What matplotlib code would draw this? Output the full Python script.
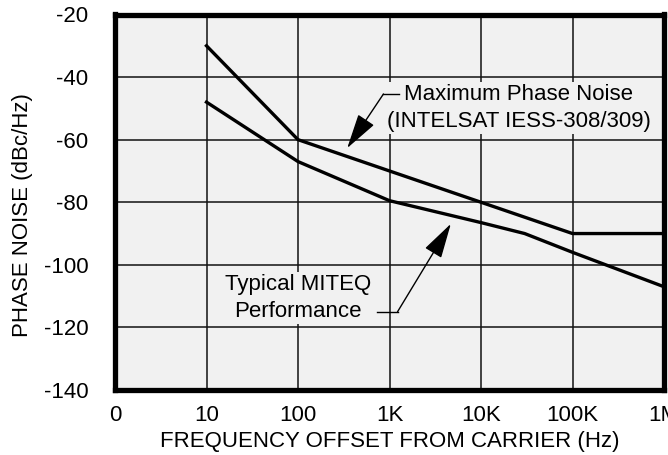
import matplotlib
matplotlib.use("Agg")
import matplotlib.pyplot as plt
from matplotlib.ticker import FixedLocator, NullLocator

plt.rcParams['font.family'] = ['Liberation Sans', 'DejaVu Sans']

# Data (frequency offset in Hz, phase noise in dBc/Hz)
max_freq = [10, 100, 1e3, 1e4, 1e5, 1e6]
max_noise = [-30, -60, -70, -80, -90, -90]

typ_freq = [10, 100, 1e3, 1e4, 3e4, 1e5, 1e6]
typ_noise = [-48, -67, -79.5, -86.5, -90, -96, -107]

x_ticks = [1, 10, 100, 1e3, 1e4, 1e5, 1e6]
x_tick_labels = ['0', '10', '100', '1K', '10K', '100K', '1M']
y_ticks = [-140, -120, -100, -80, -60, -40, -20]

bg = '#f1f1f1'
fs = 16

fig = plt.figure(figsize=(6.68, 4.55), dpi=100)
ax = fig.add_axes([115 / 668, 1 - 390 / 455, (664 - 115) / 668, (390 - 14.5) / 455])
ax.set_facecolor(bg)
ax.set_xscale('log')
ax.set_xlim(1, 1e6)
ax.set_ylim(-140, -20)
ax.xaxis.set_major_locator(FixedLocator(x_ticks))
ax.xaxis.set_minor_locator(NullLocator())
ax.set_xticklabels(x_tick_labels)
ax.set_yticks(y_ticks)
ax.set_yticklabels([str(v) for v in y_ticks])
ax.tick_params(axis='both', length=0, labelsize=fs)
ax.tick_params(axis='y', pad=19)
ax.tick_params(axis='x', pad=11)
ax.grid(True, color='#111111', linewidth=1.1)
ax.set_axisbelow(True)
for s in ax.spines.values():
    s.set_linewidth(3.8)
    s.set_color('black')

ax.plot(max_freq, max_noise, color='black', linewidth=2.4, zorder=3)
ax.plot(typ_freq, typ_noise, color='black', linewidth=2.4, zorder=3)

arrow_style = '-|>,head_length=1.1,head_width=0.3'

# Annotations
ax.text(26e3, -49.9, 'Maximum Phase Noise\n(INTELSAT IESS-308/309)', ha='center', va='center',
        fontsize=fs, linespacing=1.4, zorder=4,
        bbox=dict(boxstyle='square,pad=0.1', facecolor=bg, edgecolor='none'))
ax.plot([1256, 859], [-45.4, -45.4], color='black', linewidth=1, zorder=5)
ax.annotate('', xy=(345, -62.7), xytext=(859, -45.4),
            arrowprops=dict(arrowstyle=arrow_style, color='black', mutation_scale=20,
                            linewidth=1, shrinkA=0, shrinkB=0), zorder=5)

ax.text(100, -110.6, 'Typical MITEQ\nPerformance', ha='center', va='center',
        fontsize=fs, linespacing=1.4, zorder=4,
        bbox=dict(boxstyle='square,pad=0.1', facecolor=bg, edgecolor='none'))
ax.plot([738, 1224], [-115, -115], color='black', linewidth=1, zorder=5)
ax.annotate('', xy=(4680, -86.9), xytext=(1224, -115),
            arrowprops=dict(arrowstyle=arrow_style, color='black', mutation_scale=20,
                            linewidth=1, shrinkA=0, shrinkB=0), zorder=5)

fig.text(390 / 668, 1 - 442 / 455, 'FREQUENCY OFFSET FROM CARRIER (Hz)', ha='center', va='center',
         fontsize=fs)
fig.text(23 / 668, 1 - 215 / 455, 'PHASE NOISE (dBc/Hz)', ha='center', va='center',
         rotation=90, fontsize=fs)

fig.savefig('out.png', dpi=100)
